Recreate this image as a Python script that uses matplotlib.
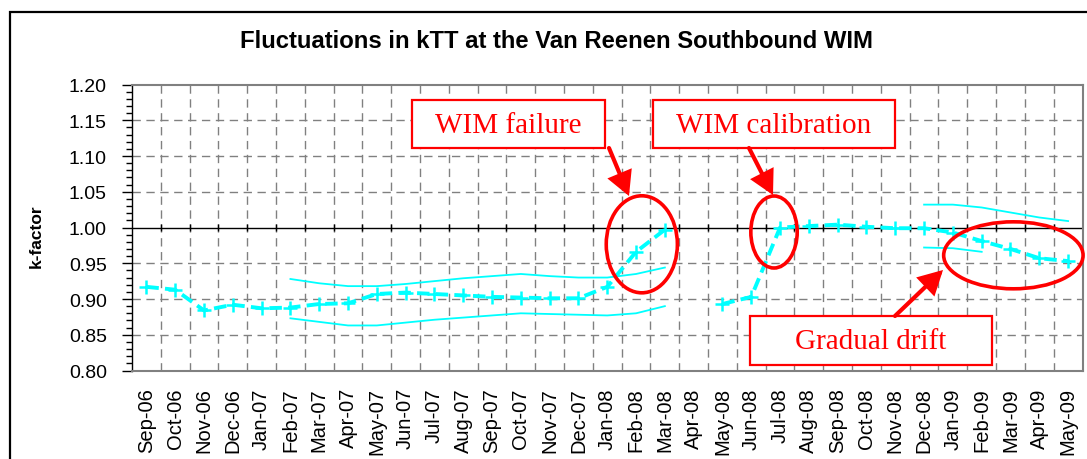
import numpy as np
import matplotlib
matplotlib.use("Agg")
import matplotlib.pyplot as plt
from matplotlib.patches import Ellipse, Rectangle, FancyArrowPatch

# ---------------- data ----------------
months = ['Sep-06', 'Oct-06', 'Nov-06', 'Dec-06', 'Jan-07', 'Feb-07', 'Mar-07', 'Apr-07',
          'May-07', 'Jun-07', 'Jul-07', 'Aug-07', 'Sep-07', 'Oct-07', 'Nov-07', 'Dec-07',
          'Jan-08', 'Feb-08', 'Mar-08', 'Apr-08', 'May-08', 'Jun-08', 'Jul-08', 'Aug-08',
          'Sep-08', 'Oct-08', 'Nov-08', 'Dec-08', 'Jan-09', 'Feb-09', 'Mar-09', 'Apr-09',
          'May-09']
nan = np.nan
ktt = [0.917, 0.913, 0.884, 0.892, 0.887, 0.888, 0.893, 0.894,
       0.907, 0.909, 0.907, 0.905, 0.903, 0.902, 0.901, 0.901,
       0.917, 0.966, 0.997, nan, 0.893, 0.903, 1.000, 1.002,
       1.004, 1.001, 0.999, 0.999, 0.993, 0.981, 0.970, 0.957,
       0.953]
upper1_months = months[5:19]
upper1 = [0.928, 0.922, 0.918, 0.918, 0.921, 0.925, 0.929, 0.932, 0.935, 0.932, 0.930, 0.930, 0.935, 0.944]
lower1_months = months[5:19]
lower1 = [0.873, 0.868, 0.863, 0.863, 0.867, 0.871, 0.874, 0.877, 0.880, 0.879, 0.878, 0.877, 0.880, 0.890]
upper2_months = months[27:33]
upper2 = [1.032, 1.032, 1.028, 1.021, 1.014, 1.009]
lower2_months = months[27:30]
lower2 = [0.972, 0.971, 0.966]

yticks = [0.80, 0.85, 0.90, 0.95, 1.00, 1.05, 1.10, 1.15, 1.20]

title = 'Fluctuations in kTT at the Van Reenen Southbound WIM'
ylabel = 'k-factor'

# ---------------- figure ----------------
W, H = 1087, 460
fig = plt.figure(figsize=(W / 100, H / 100), dpi=100)
plt.rcParams['font.family'] = ['Liberation Sans', 'DejaVu Sans']

def fx(px):
    return px / W

def fy(py):
    return 1 - py / H

ax = fig.add_axes([fx(132), fy(371.5), (1082.5 - 132) / W, (371.5 - 85.5) / H])

x = np.arange(len(months))
pos = {m: i for i, m in enumerate(months)}

cyan = '#00FFFF'
ax.plot([pos[m] for m in upper1_months], upper1, color=cyan, lw=1.3, zorder=3)
ax.plot([pos[m] for m in lower1_months], lower1, color=cyan, lw=1.3, zorder=3)
ax.plot([pos[m] for m in upper2_months], upper2, color=cyan, lw=1.3, zorder=3)
ax.plot([pos[m] for m in lower2_months], lower2, color=cyan, lw=1.3, zorder=3)
ax.plot(x, ktt, color=cyan, lw=2.8, linestyle=(0, (3.2, 1.6)), marker='+',
        markersize=10.5, markeredgewidth=1.8, zorder=4)

ax.set_xlim(-0.5, len(months) - 0.5)
ax.set_ylim(0.80, 1.20)

# grid
for b in np.arange(0.5, len(months) - 0.5, 1.0):
    ax.axvline(b, color='#808080', lw=1.0, linestyle=(0, (6, 4)), zorder=1)
for yv in yticks[1:-1]:
    if abs(yv - 1.0) > 1e-9:
        ax.axhline(yv, color='#808080', lw=1.0, linestyle=(0, (6, 4)), zorder=1)
# category axis crossing at 1.00
ax.axhline(1.0, color='black', lw=1.0, zorder=2)
ax.vlines(np.arange(0.5, len(months) - 0.5, 1.0), 0.9945, 1.0055, color='black', lw=1.0, zorder=2)

ax.set_yticks(yticks)
ax.set_yticklabels([f'{v:.2f}' for v in yticks], fontsize=14)
ax.set_yticks(np.arange(0.80, 1.2001, 0.01), minor=True)
ax.tick_params(axis='y', which='major', length=7, width=1, direction='out', pad=11, color='black')
ax.tick_params(axis='y', which='minor', length=4, width=1, direction='out', color='black')

ax.set_xticks(x)
ax.set_xticklabels(months, rotation=90, fontsize=14.5)
ax.tick_params(axis='x', which='both', length=0, pad=12)

for s in ['top', 'right', 'bottom']:
    ax.spines[s].set_color('#808080')
    ax.spines[s].set_linewidth(1.5)
ax.spines['left'].set_color('black')
ax.spines['left'].set_linewidth(1.0)

# titles
fig.text(fx(557), fy(42), title, ha='center', va='center', fontsize=17.2, fontweight='bold')
fig.text(fx(36), fy(236.5), ylabel, ha='center', va='center', rotation=90,
         fontsize=12.5, fontweight='bold')

# chart border (cut off at right/bottom as in the source)
fig.patches.append(Rectangle((fx(10), -0.1), 1.2, fy(12.7) + 0.1, transform=fig.transFigure,
                             fill=False, edgecolor='black', lw=1.6, figure=fig))

# annotations: ellipses in data coordinates
red = '#FF0000'
for (cx, cy, w, h) in [(17.20, 0.9765, 2.47, 0.1357),
                       (21.79, 0.9937, 1.61, 0.1007),
                       (30.10, 0.9611, 4.84, 0.0937)]:
    ax.add_patch(Ellipse((cx, cy), w, h, fill=False, edgecolor=red, lw=2.6,
                         zorder=6, clip_on=False))

# boxes with text (figure pixel coordinates)
boxes = [('WIM failure', 412, 101, 605, 149),
         ('WIM calibration', 653, 101, 895, 149),
         ('Gradual drift', 750, 317, 992, 366)]
for txt, x0, y0, x1, y1 in boxes:
    fig.patches.append(Rectangle((fx(x0), fy(y1)), fx(x1) - fx(x0), fy(y0) - fy(y1),
                                 transform=fig.transFigure, facecolor='white',
                                 edgecolor=red, lw=1.6, figure=fig, zorder=7))
    fig.text(fx((x0 + x1) / 2), fy((y0 + y1) / 2 + 1), txt, ha='center', va='center',
             fontsize=21, color=red, family=['Liberation Serif', 'DejaVu Serif'], zorder=8)

arrows = [((609, 149), (629, 197)),
          ((749, 149), (773, 196)),
          ((895, 317), (943, 271))]
for (t, h) in arrows:
    fig.patches.append(FancyArrowPatch((fx(t[0]), fy(t[1])), (fx(h[0]), fy(h[1])),
                                       transform=fig.transFigure,
                                       arrowstyle='-|>,head_length=0.65,head_width=0.35',
                                       mutation_scale=20, facecolor=red, edgecolor=red,
                                       lw=3.0, shrinkA=0, shrinkB=0,
                                       joinstyle='miter', figure=fig, zorder=7))

fig.savefig('out.png', dpi=100)
